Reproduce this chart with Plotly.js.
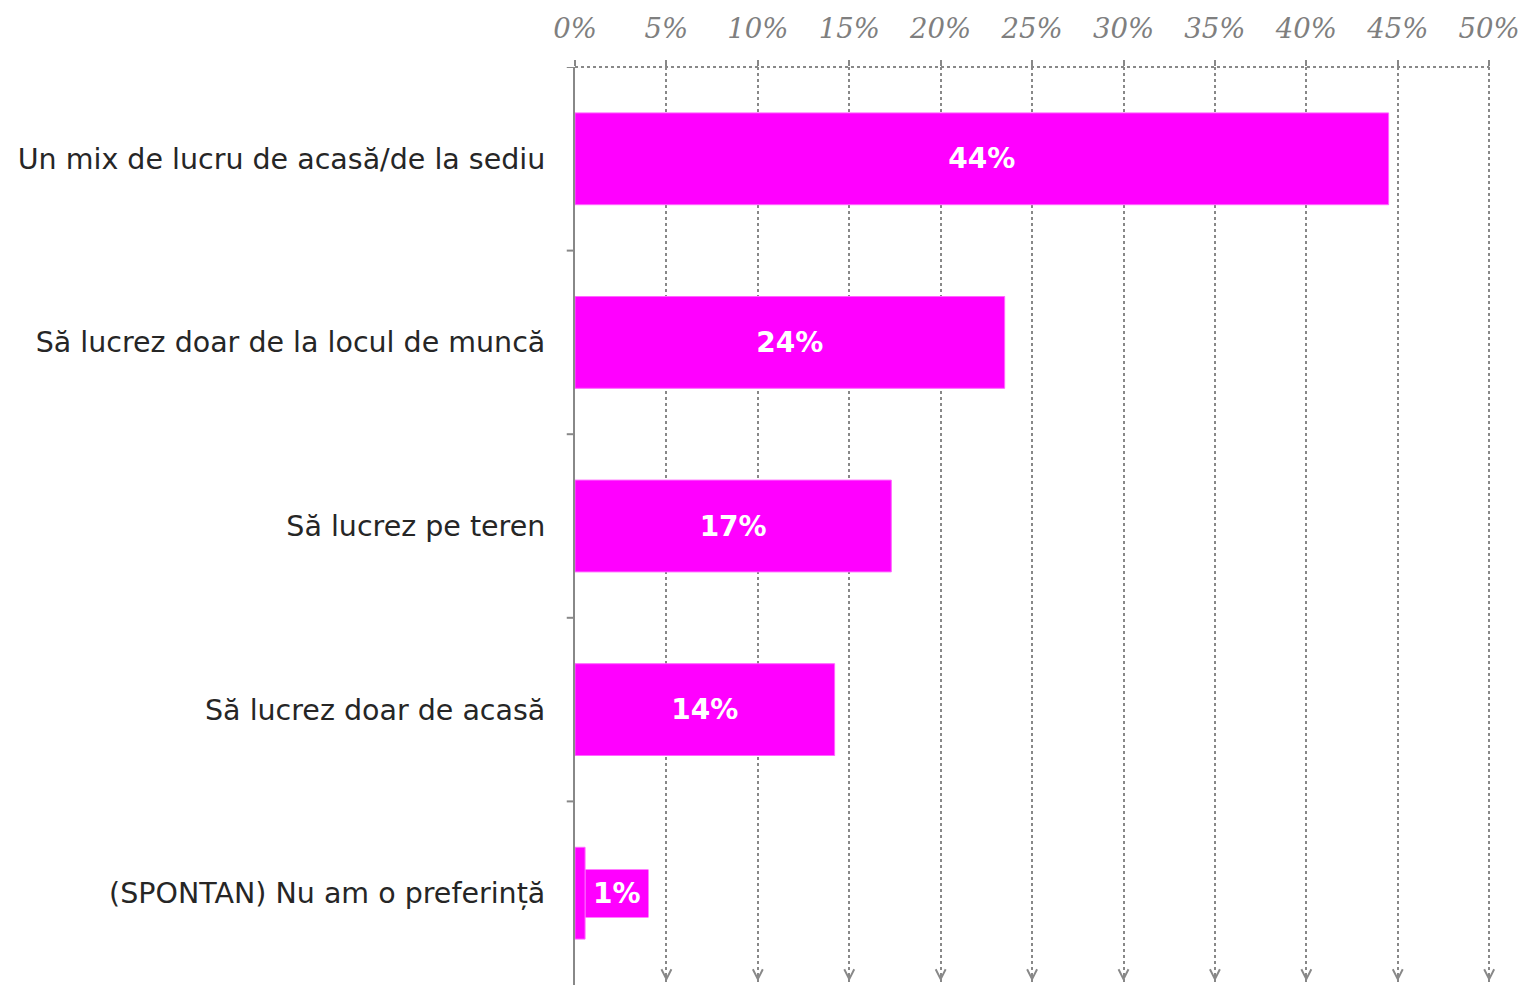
<!DOCTYPE html>
<html>
<head>
<meta charset="utf-8">
<script src="https://cdn.plot.ly/plotly-3.0.1.min.js"></script>
<style>
  html, body { margin: 0; padding: 0; background: #fff; }
  #chart { width: 1522px; height: 985px; }
</style>
</head>
<body>
<div id="chart"></div>
<script>
// preference for where to work
const CATEGORIES = [
  'Un mix de lucru de acasă/de la sediu',
  'Să lucrez doar de la locul de muncă',
  'Să lucrez pe teren',
  'Să lucrez doar de acasă',
  '(SPONTAN) Nu am o preferință',
];
const VALUES = [44.5, 23.5, 17.3, 14.2, 0.55];
const LABELS = ['44%', '24%', '17%', '14%', '1%'];
const X_TICKS = [0, 5, 10, 15, 20, 25, 30, 35, 40, 45, 50];

const MAGENTA = '#ff00ff';
const GREY = '#888888';

// the last bar is too thin for its label, it gets a boxed annotation instead
const inside = LABELS.map((l, i) => (VALUES[i] < 3 ? '' : l));
const small = VALUES.map((v, i) => ({ v, i })).filter(d => d.v < 3);

const labelNotes = small.map(d => ({
  x: d.v, y: d.i, xref: 'x', yref: 'y',
  xanchor: 'left', yanchor: 'middle',
  text: LABELS[d.i], showarrow: false,
  bgcolor: MAGENTA, borderpad: 7,
  font: { family: 'DejaVu Sans', size: 28, color: '#fff', weight: 'bold' },
}));

const arrowNotes = X_TICKS.slice(1).map(t => ({
  x: t, y: 0.004, xref: 'x', yref: 'paper',
  ax: 0, ay: -7, showarrow: true, text: '',
  arrowhead: 5, arrowsize: 1.3, arrowwidth: 1.5, arrowcolor: GREY,
}));

Plotly.newPlot('chart', [{
  type: 'bar',
  orientation: 'h',
  x: VALUES,
  y: CATEGORIES.map((c, i) => i),
  width: 0.5,
  text: inside,
  textposition: 'inside',
  insidetextanchor: 'middle',
  textangle: 0,
  textfont: { family: 'DejaVu Sans', size: 28, color: '#fff', weight: 'bold' },
  marker: { color: MAGENTA, line: { color: '#ff66ff', width: 1 } },
  hoverinfo: 'skip',
}], {
  width: 1522,
  height: 985,
  margin: { t: 67, b: 0, l: 575, r: 31 },
  paper_bgcolor: '#fff',
  plot_bgcolor: '#fff',
  showlegend: false,
  bargap: 0.5,
  xaxis: {
    side: 'top',
    range: [0, 50.1],
    tickvals: X_TICKS,
    ticktext: X_TICKS.map(t => t + '%'),
    ticks: 'outside', ticklen: 6, tickwidth: 2, tickcolor: GREY,
    ticklabelstandoff: 11,
    tickfont: { family: 'DejaVu Serif', size: 27.5, color: '#7f7f7f', style: 'italic' },
    showgrid: true, gridcolor: GREY, gridwidth: 2, griddash: 'dot',
    zeroline: false, showline: false,
    fixedrange: true,
  },
  yaxis: {
    range: [4.5, -0.5],
    tickvals: CATEGORIES.map((c, i) => i),
    ticktext: CATEGORIES,
    ticks: '',
    tickfont: { family: 'DejaVu Sans', size: 28.5, color: '#262626' },
    ticklabelstandoff: 22,
    showgrid: false, zeroline: false,
    showline: true, linecolor: GREY, linewidth: 2,
    fixedrange: true,
  },
  shapes: [
    // dotted top rule
    { type: 'line', xref: 'x', yref: 'paper', x0: 0, x1: 50, y0: 1, y1: 1,
      line: { color: GREY, width: 2, dash: 'dot' } },
    // small ticks on the value axis between categories
    ...[-0.5, 0.5, 1.5, 2.5, 3.5].map(b => ({
      type: 'line', xref: 'paper', yref: 'y', x0: -0.009, x1: 0, y0: b, y1: b,
      line: { color: GREY, width: 2 },
    })),
  ],
  annotations: [...labelNotes, ...arrowNotes],
}, { displayModeBar: false, staticPlot: true });
</script>
</body>
</html>
